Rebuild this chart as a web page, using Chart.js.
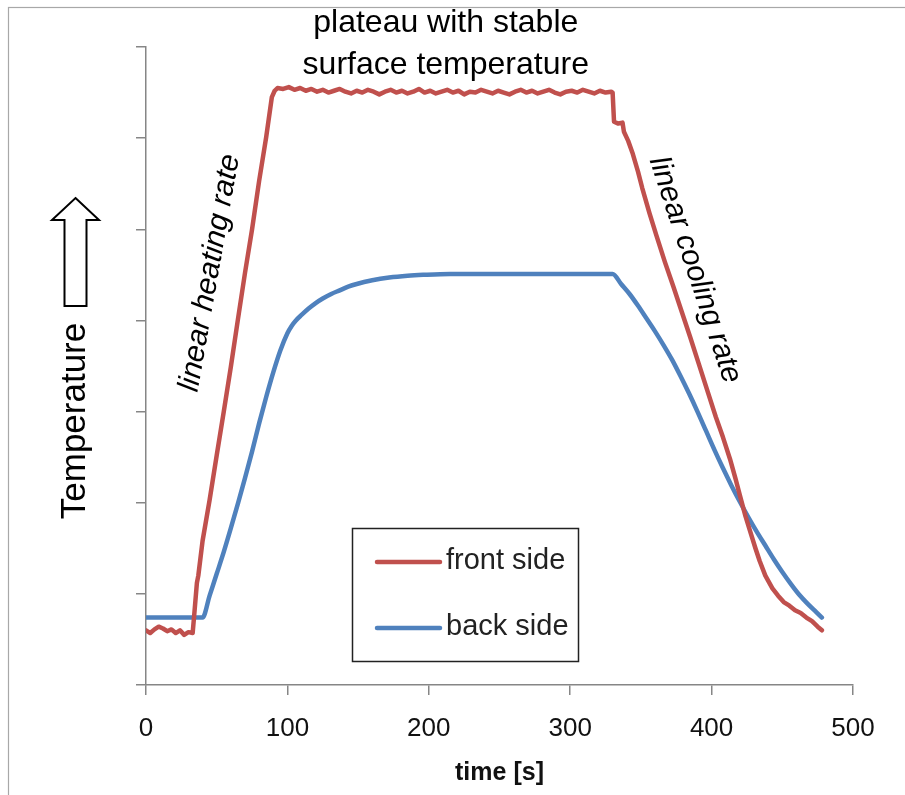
<!DOCTYPE html>
<html>
<head>
<meta charset="utf-8">
<script src="https://cdn.jsdelivr.net/npm/chart.js@4/dist/chart.umd.min.js"></script>
<style>
  html,body{margin:0;padding:0;background:#fff;}
  #wrap{width:905px;height:795px;position:relative;}
</style>
</head>
<body>
<div id="wrap"><canvas id="c" width="905" height="795"></canvas></div>
<script>
// ---- data ----
const seriesNames = ["front side", "back side"];
const xTickValues = [0, 100, 200, 300, 400, 500];
const xAxisTitle = "time [s]";
const yAxisTitle = "Temperature";

const frontTime = [0,3,6,9,12,15,18,21,24,27,30,33,
  34,36,37,40,45,50,55,60,65,70,75,80,85,89,91,
  93,97,101,105,109,113,117,121,125,129,133,137,141,145,149,153,157,161,165,169,
  173,177,181,185,189,193,197,201,205,209,213,217,221,225,229,233,237,241,245,249,
  253,257,261,265,269,273,277,281,285,289,293,297,301,305,309,313,317,321,325,329,
  330,331,334,337,338,341,344,348,351,356,361,367,373,379,385,391,397,403,408,413,
  417,420,424,427,431,434,438,443,447,451,455,459,463,467,471,475,478];
const frontTemp = [60,57,61,64,62,59,61,57,60,55,58,57,
  75,112,120,158,203,252,300,349,401,452,500,553,601,645,652,
  655,654,656,653,655,652,654,651,653,650,652,654,651,649,652,650,653,651,648,651,
  653,650,652,649,651,654,650,652,649,651,653,650,652,648,651,650,653,651,649,652,
  650,648,651,653,650,652,649,651,653,650,648,651,652,650,653,651,649,652,650,651,
  650,618,616,617,607,597,584,563,545,518,493,464,437,409,381,352,323,294,272,248,
  226,208,185,170,150,136,120,106,98,91,87,82,79,74,70,64,60];

const backTime = [0,40,45,50,55,60,65,70,75,80,85,90,95,100,103,106,110,115,120,125,
  131,137,143,149,160,172,185,196,215,250,300,330,336,342,348,354,360,366,372,378,
  384,390,396,402,408,414,420,426,432,438,444,450,456,462,468,474,478];
const backTemp = [74,74,98,122,146,172,199,227,256,287,316,343,367,386,394,400,406,413,419,424,
  429,433,437,440,444,447,449,450,451,451,451,451,440,429,416,402,388,373,357,339,
  320,300,279,258,238,219,201,184,168,153,138,124,111,99,89,80,74];

const annotationTexts = {
  plateau: ["plateau with stable", "surface temperature"],
  heating: "linear heating rate",
  cooling: "linear cooling rate"
};

// ---- styles ----
const RED = "#C0504D", BLUE = "#4F81BD", AXIS = "#868686";
const FONT = "'Liberation Sans', Arial, sans-serif";

function toPoints(xs, ys){ return xs.map((x,i)=>({x:x, y:ys[i]})); }

const decor = {
  id: "decor",
  afterDraw(chart){
    const ctx = chart.ctx;
    const xs = chart.scales.x;
    ctx.save();
    // outer chart border
    ctx.strokeStyle = "#a8a8a8"; ctx.lineWidth = 1.2;
    ctx.strokeRect(8.5, 7.5, 905, 795);

    ctx.fillStyle = "#000";
    ctx.textAlign = "center"; ctx.textBaseline = "middle";
    // plateau text
    ctx.font = "32px " + FONT;
    const cx = xs.getPixelForValue(212);
    ctx.fillText(annotationTexts.plateau[0], cx, 23);
    ctx.fillText(annotationTexts.plateau[1], cx, 65);

    // heating text
    ctx.save();
    ctx.translate(210, 273);
    ctx.rotate(-80 * Math.PI/180);
    ctx.font = "italic 30px " + FONT;
    ctx.fillText(annotationTexts.heating, 0, 0);
    ctx.restore();

    // cooling text
    ctx.save();
    ctx.translate(695, 270);
    ctx.rotate(71.5 * Math.PI/180);
    ctx.font = "italic 30px " + FONT;
    ctx.fillText(annotationTexts.cooling, 0, 0);
    ctx.restore();

    // y axis title
    ctx.save();
    ctx.translate(75, 421);
    ctx.rotate(-Math.PI/2);
    ctx.font = "35px " + FONT;
    ctx.fillText(yAxisTitle, 0, 0);
    ctx.restore();

    // hollow up arrow
    ctx.beginPath();
    ctx.moveTo(75.5, 198);
    ctx.lineTo(99, 220);
    ctx.lineTo(86.5, 220);
    ctx.lineTo(86.5, 306);
    ctx.lineTo(64.5, 306);
    ctx.lineTo(64.5, 220);
    ctx.lineTo(52, 220);
    ctx.closePath();
    ctx.fillStyle = "#fff"; ctx.fill();
    ctx.strokeStyle = "#000"; ctx.lineWidth = 2; ctx.lineJoin = "miter";
    ctx.stroke();

    // legend box
    ctx.fillStyle = "#fff";
    ctx.fillRect(352, 528, 226, 133);
    ctx.strokeStyle = "#222"; ctx.lineWidth = 1.5;
    ctx.strokeRect(352.5, 528.5, 226, 133);
    const ds = chart.data.datasets;
    const rows = [562, 628];
    ds.forEach((d, i) => {
      ctx.beginPath();
      ctx.strokeStyle = d.borderColor; ctx.lineWidth = 4.5; ctx.lineCap = "round";
      ctx.moveTo(377, rows[i]); ctx.lineTo(440, rows[i]); ctx.stroke();
      ctx.fillStyle = "#222"; ctx.textAlign = "left"; ctx.textBaseline = "middle";
      ctx.font = "29px " + FONT;
      ctx.fillText(d.label, 446, rows[i] - 1);
    });
    ctx.restore();
  }
};

new Chart(document.getElementById("c"), {
  type: "line",
  data: {
    datasets: [
      { label: seriesNames[0], data: toPoints(frontTime, frontTemp), borderColor: RED,
        borderWidth: 4.5, pointRadius: 0, tension: 0, borderJoinStyle: "round", borderCapStyle: "round" },
      { label: seriesNames[1], data: toPoints(backTime, backTemp), borderColor: BLUE,
        borderWidth: 4.5, pointRadius: 0, cubicInterpolationMode: "monotone",
        borderJoinStyle: "round", borderCapStyle: "round" }
    ]
  },
  options: {
    responsive: false,
    animation: false,
    devicePixelRatio: 1,
    layout: { padding: { left: 136, top: 47, right: 52, bottom: 0 } },
    plugins: { legend: { display: false }, tooltip: { enabled: false } },
    scales: {
      x: {
        type: "linear", min: 0, max: 500,
        afterBuildTicks: (s) => { s.ticks = xTickValues.map(v => ({ value: v })); },
        afterFit: (s) => { s.height = 110; },
        ticks: { color: "#111", font: { family: FONT, size: 26 }, padding: 18, maxRotation: 0 },
        grid: { drawOnChartArea: false, drawTicks: true, tickLength: 10, color: AXIS, lineWidth: 1.5 },
        border: { display: true, color: AXIS, width: 1.5 },
        title: { display: true, text: xAxisTitle, color: "#111",
                 font: { family: FONT, size: 25, weight: "bold" }, padding: { top: 0, bottom: 7 } }
      },
      y: {
        type: "linear", min: 0, max: 700,
        ticks: { display: false, stepSize: 100 },
        grid: { drawOnChartArea: false, drawTicks: true, tickLength: 10, color: AXIS, lineWidth: 1.5 },
        border: { display: true, color: AXIS, width: 1.5 }
      }
    }
  },
  plugins: [decor]
});
</script>
</body>
</html>
